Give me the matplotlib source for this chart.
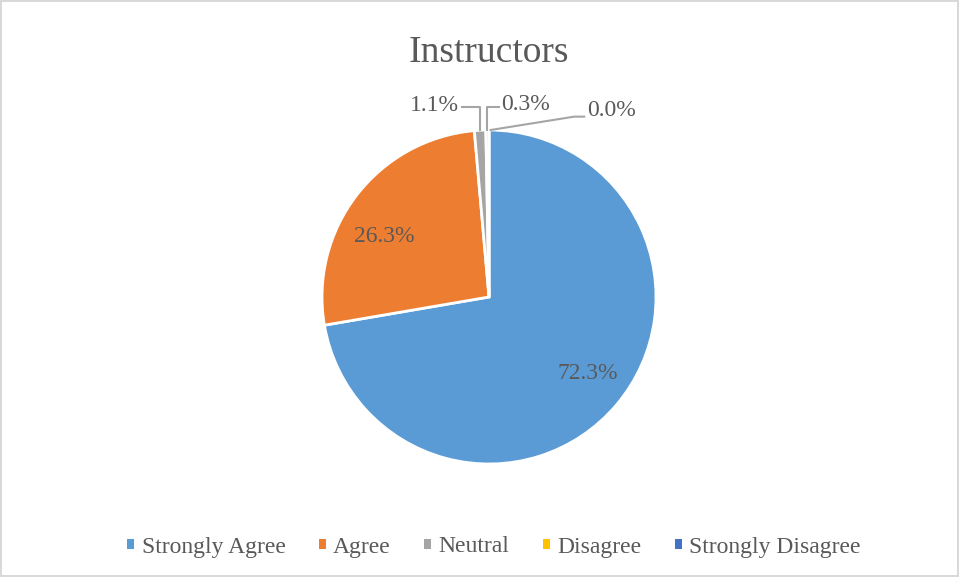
import numpy as np
import matplotlib.pyplot as plt
from matplotlib.patches import Patch

categories = ['Strongly Agree', 'Agree', 'Neutral', 'Disagree', 'Strongly Disagree']
shares = [72.3, 26.3, 1.1, 0.3, 0.0]
labels = ['72.3%', '26.3%', '1.1%', '0.3%', '0.0%']
colors = ['#5B9BD5', '#ED7D31', '#A5A5A5', '#FFC000', '#4472C4']

plt.rcParams['font.family'] = ['Liberation Serif', 'DejaVu Serif']
txt = '#595959'

fig = plt.figure(figsize=(9.59, 5.77), dpi=100)
fig.patch.set_edgecolor('#D9D9D9')
fig.patch.set_linewidth(1.5)

cx, cy, r = 489 / 959, 1 - 297 / 577, 167
ax = fig.add_axes([cx - r / 959, cy - r / 577, 2 * r / 959, 2 * r / 577])

wedges, _ = ax.pie(shares, colors=colors, startangle=90, counterclock=False,
                   wedgeprops=dict(edgecolor='white', linewidth=2))
ax.set_xlim(-1, 1)
ax.set_ylim(-1, 1)
ax.set_aspect('equal')
ax.axis('off')

# labels inside the two big slices
ax.text(0.59, -0.46, labels[0], ha='center', va='center', fontsize=17, color=txt)
ax.text(-0.63, 0.36, labels[1], ha='center', va='center', fontsize=17, color=txt)

# small slices: labels outside with leader lines
def mid_point(w):
    a = np.deg2rad((w.theta1 + w.theta2) / 2)
    return np.cos(a), np.sin(a)

lc = '#A5A5A5'
x, y = mid_point(wedges[2])
ax.plot([x, x, -0.16], [y, 1.14, 1.14], color=lc, lw=1.5, clip_on=False)
ax.text(-0.18, 1.145, labels[2], ha='right', va='center', fontsize=17, color=txt)

x, y = mid_point(wedges[3])
ax.plot([x, x, 0.06], [y, 1.14, 1.14], color=lc, lw=1.5, clip_on=False)
ax.text(0.07, 1.155, labels[3], ha='left', va='center', fontsize=17, color=txt)

x, y = mid_point(wedges[4])
ax.plot([x + 0.01, 0.51, 0.57], [y, 1.08, 1.08], color=lc, lw=1.5, clip_on=False)
ax.text(0.59, 1.115, labels[4], ha='left', va='center', fontsize=17, color=txt)

fig.text(0.51, 1 - 53 / 577, 'Instructors', ha='center', va='center', fontsize=27, color=txt)

handles = [Patch(facecolor=c, edgecolor='none') for c in colors]
fig.legend(handles, categories, loc='center', bbox_to_anchor=(0.515, 1 - 547 / 577),
           ncol=5, frameon=False, fontsize=17, labelcolor=txt,
           handlelength=0.3, handleheight=0.3, handletextpad=0.3, columnspacing=1.42)

fig.savefig('out.png', dpi=100)
